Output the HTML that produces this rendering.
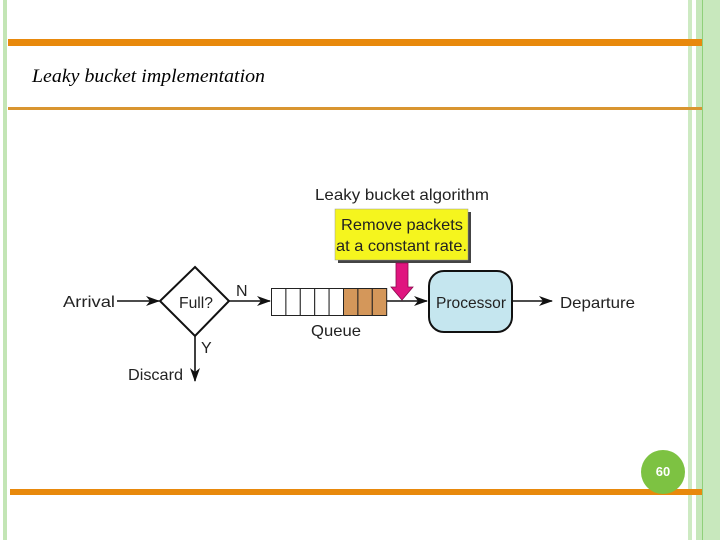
<!DOCTYPE html>
<html><head><style>
body{margin:0;width:720px;height:540px;overflow:hidden;background:#fff;position:relative;font-family:"Liberation Sans",sans-serif}
div{position:absolute}
</style></head><body>
<div style="left:3px;top:0;width:4px;height:540px;background:#c3e5b5"></div>
<div style="left:688px;top:0;width:4px;height:540px;background:#cdeac2"></div>
<div style="left:696px;top:0;width:6px;height:540px;background:#c6e7bb"></div>
<div style="left:702px;top:0;width:1px;height:540px;background:#8fd07a"></div>
<div style="left:703px;top:0;width:17px;height:540px;background:#c8e8bd"></div>
<div style="left:8px;top:39px;width:694px;height:7px;background:#e8890c"></div>
<div style="left:8px;top:107px;width:694px;height:3px;background:#d99530"></div>
<div style="left:10px;top:489px;width:692px;height:6px;background:#e8890c"></div>
<div style="left:641px;top:450px;width:44px;height:44px;border-radius:50%;background:#7dc242;color:#fff;font-size:13px;font-weight:bold;text-align:center;line-height:44px">60</div>
<svg width="720" height="540" style="position:absolute;left:0;top:0" font-family="Liberation Sans, sans-serif" font-size="16">
<text x="32" y="82" font-family="Liberation Serif, serif" font-style="italic" font-size="19" textLength="233" lengthAdjust="spacingAndGlyphs">Leaky bucket implementation</text>
<defs><marker id="a" markerWidth="14" markerHeight="10" refX="13" refY="5" orient="auto" markerUnits="userSpaceOnUse"><path d="M0,0 L14,5 L0,10 L4,5z" fill="#111"/></marker></defs>
<text x="63" y="307" fill="#222" textLength="52" lengthAdjust="spacingAndGlyphs">Arrival</text>
<line x1="117" y1="301" x2="159" y2="301" stroke="#111" stroke-width="1.6" marker-end="url(#a)"/>
<polygon points="195,267 229,301 195,336 160,301" fill="#fff" stroke="#111" stroke-width="2"/>
<text x="179" y="308" fill="#222" textLength="34" lengthAdjust="spacingAndGlyphs">Full?</text>
<text x="236" y="296" fill="#222">N</text>
<line x1="229" y1="301" x2="270" y2="301" stroke="#111" stroke-width="1.6" marker-end="url(#a)"/>
<line x1="195" y1="336" x2="195" y2="381" stroke="#111" stroke-width="1.6" marker-end="url(#a)"/>
<text x="201" y="353" fill="#222">Y</text>
<text x="128" y="380" fill="#222" textLength="55" lengthAdjust="spacingAndGlyphs">Discard</text>
<g stroke="#222" stroke-width="1">
<rect x="271.5" y="288.5" width="14.4" height="27" fill="#fff"/>
<rect x="285.9" y="288.5" width="14.4" height="27" fill="#fff"/>
<rect x="300.3" y="288.5" width="14.4" height="27" fill="#fff"/>
<rect x="314.7" y="288.5" width="14.4" height="27" fill="#fff"/>
<rect x="329.1" y="288.5" width="14.4" height="27" fill="#fff"/>
<rect x="343.5" y="288.5" width="14.4" height="27" fill="#d4975a"/>
<rect x="357.9" y="288.5" width="14.4" height="27" fill="#d4975a"/>
<rect x="372.3" y="288.5" width="14.4" height="27" fill="#d4975a"/>
</g>
<text x="311" y="336" fill="#222" textLength="50" lengthAdjust="spacingAndGlyphs">Queue</text>
<line x1="387" y1="301" x2="427" y2="301" stroke="#111" stroke-width="1.6" marker-end="url(#a)"/>
<rect x="429" y="271" width="83" height="61" rx="15" fill="#c5e6ef" stroke="#111" stroke-width="2"/>
<text x="436" y="308" fill="#222" textLength="70" lengthAdjust="spacingAndGlyphs">Processor</text>
<line x1="512" y1="301" x2="552" y2="301" stroke="#111" stroke-width="1.6" marker-end="url(#a)"/>
<text x="560" y="308" fill="#222" textLength="75" lengthAdjust="spacingAndGlyphs">Departure</text>
<text x="315" y="200" fill="#222" textLength="174" lengthAdjust="spacingAndGlyphs">Leaky bucket algorithm</text>
<rect x="338" y="212" width="133" height="51" fill="#444"/>
<rect x="335" y="209" width="133" height="51" fill="#f5f51e" stroke="#999" stroke-width="0.5"/>
<text x="341" y="230" fill="#222" textLength="122" lengthAdjust="spacingAndGlyphs">Remove packets</text>
<text x="336" y="251" fill="#222" textLength="131" lengthAdjust="spacingAndGlyphs">at a constant rate.</text>
<polygon points="396,263 408,263 408,287 413,287 402,300 391,287 396,287" fill="#e0157f" stroke="#8a0a4c" stroke-width="0.8"/>
</svg>
</body></html>
